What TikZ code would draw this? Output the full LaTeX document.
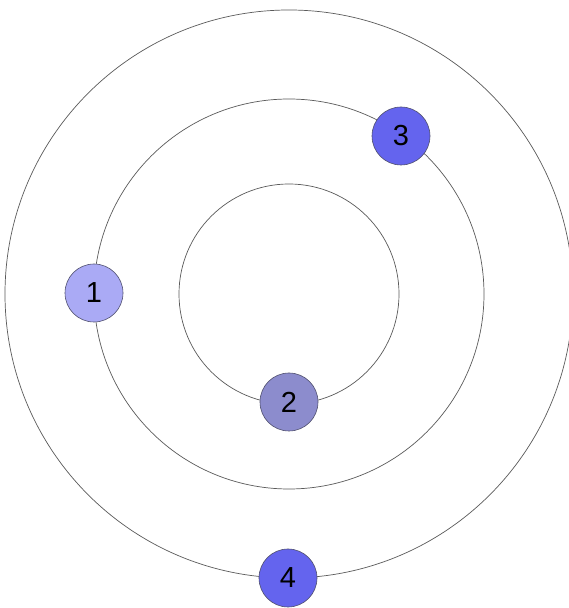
\documentclass[tikz,border=0pt]{standalone}
\usepackage{fontspec}
\setmainfont{Liberation Sans}
\definecolor{ringc}{RGB}{90,90,90}
\definecolor{cone}{RGB}{170,170,245}
\definecolor{ctwo}{RGB}{140,140,205}
\definecolor{cthree}{RGB}{100,100,238}
\definecolor{nodeline}{RGB}{80,80,110}
\begin{document}
\begin{tikzpicture}[x=1pt,y=1pt,
  ring/.style={draw=ringc,line width=0.7pt},
  planet/.style={circle,draw=nodeline,line width=0.6pt,minimum size=58pt,inner sep=0pt,font=\fontsize{29}{30}\selectfont}]
\useasboundingbox (0,0) rectangle (568,608);
\fill[white] (0,0) rectangle (568,608);
\coordinate (c) at (289,314);
\draw[ring] (c) circle[radius=284];
\draw[ring] (c) circle[radius=195];
\draw[ring] (c) circle[radius=110];
\node[planet,fill=cone] (n1) at (94,315) {1};
\node[planet,fill=ctwo] (n2) at (289,206) {2};
\node[planet,fill=cthree] (n3) at (401,472) {3};
\node[planet,fill=cthree] (n4) at (288,30) {4};
\end{tikzpicture}
\end{document}
